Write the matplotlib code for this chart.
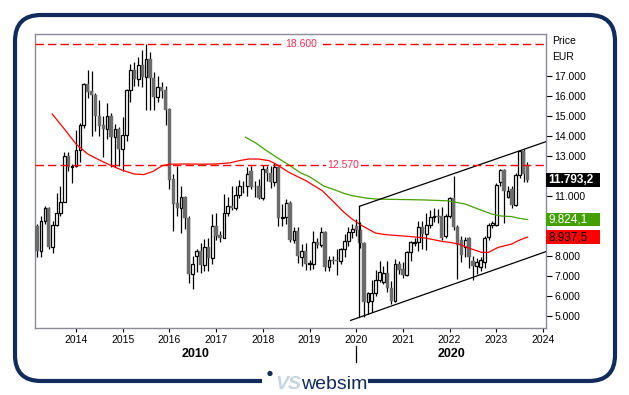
import matplotlib
matplotlib.use("Agg")
import matplotlib.pyplot as plt
import matplotlib.transforms as mtransforms
from matplotlib.patches import Rectangle, FancyBboxPatch, Circle
import numpy as np
import pandas as pd

# monthly candles, Mar 2013 .. Sep 2023
opens = [9520, 8270, 9730, 10400, 8470, 9570, 10130, 10680, 12980, 12470,
         12520, 13300, 14550, 16600, 16270, 16070, 15020, 14570, 14350, 15020,
         13930, 14350, 13350, 14050, 16300, 17300, 16850, 17550, 16970, 17850,
         16880, 15970, 16430, 16300, 15330, 11850, 10630, 10400, 10930, 9880,
         7100, 8020, 8270, 7570, 8430, 7880, 9480, 9050, 8880, 10130,
         10520, 10400, 11070, 11520, 11520, 12230, 11470, 11520, 10880, 12350,
         12130, 11680, 12470, 9880, 9970, 10630, 8800, 9270, 7970, 8270,
         7580, 7600, 8680, 8550, 9180, 7430, 7800, 7800, 7770, 8350,
         8770, 9180, 9500, 9300, 8630, 5680, 5750, 6130, 6800, 6700,
         7130, 6380, 5770, 7600, 7350, 7070, 8180, 8630, 8680, 9470,
         9100, 9550, 9930, 10000, 10000, 9020, 10020, 10880, 9470, 8820,
         8430, 8900, 7770, 7520, 7430, 7680, 8970, 9550, 9570, 11680,
         12300, 10970, 11350, 10570, 12050, 13230, 12550]
highs = [9600, 10020, 10520, 10450, 9730, 11130, 11520, 13180, 13180, 12600,
         14320, 14650, 16650, 17300, 17230, 16170, 15800, 15020, 15650, 15150,
         14600, 14430, 14930, 16350, 17600, 17680, 17930, 18300, 18600, 18180,
         17180, 16980, 16680, 16480, 15400, 12100, 12520, 11480, 11000, 10000,
         8020, 8350, 8630, 8850, 8900, 10100, 10150, 9270, 11100, 10970,
         11480, 11520, 11800, 11750, 12430, 12480, 11770, 11850, 12550, 12520,
         12480, 12630, 12520, 10600, 10850, 10770, 9430, 9430, 8600, 8630,
         7800, 9270, 8900, 9470, 9250, 8020, 8000, 8350, 8400, 9100,
         9470, 9600, 9850, 9700, 8700, 6180, 6800, 7300, 7770, 7500,
         7770, 6770, 7850, 7770, 7680, 8270, 8770, 8900, 9770, 9770,
         10130, 10300, 10400, 10350, 10430, 10100, 10950, 12020, 9550, 9000,
         8950, 8950, 8020, 7900, 7950, 9000, 9650, 9750, 11650, 12350,
         12350, 11500, 11500, 12150, 13300, 13350, 12720]
lows = [7970, 7970, 9600, 8370, 8130, 9500, 10000, 10680, 12270, 11630,
        12430, 12680, 14400, 15900, 14020, 14270, 14020, 12970, 13870, 12470,
        12430, 12520, 12270, 13730, 15680, 16500, 16500, 16430, 15300, 15300,
        15300, 15680, 15900, 14570, 11350, 9270, 10000, 9150, 9350, 6630,
        6350, 7200, 7130, 7230, 7270, 7600, 8800, 8700, 8880, 10000,
        10300, 10300, 10900, 11150, 11020, 11350, 10930, 10850, 10800, 11770,
        11400, 11500, 9520, 9520, 9600, 8700, 8650, 7630, 7520, 7320,
        7300, 7350, 8400, 8450, 7270, 7230, 7600, 7070, 7600, 7970,
        8500, 8900, 9000, 8400, 4970, 5100, 5200, 6000, 6700, 6600,
        6200, 5600, 5680, 7100, 6900, 7000, 7770, 8500, 8270, 8350,
        8300, 9400, 9700, 9650, 8800, 8900, 9900, 9300, 6850, 7700,
        7950, 7400, 6800, 7100, 7250, 7400, 8800, 9400, 9500, 11500,
        9630, 10900, 10400, 10500, 11900, 11700, 11700]
closes = [8270, 9730, 10400, 8470, 9570, 10130, 10680, 12980, 12470, 12520,
          13300, 14550, 16600, 16220, 16050, 15020, 14520, 14350, 15020, 13930,
          14350, 13350, 14050, 16300, 17300, 16850, 17550, 16930, 17850, 16880,
          15970, 16430, 16270, 15300, 11820, 10600, 10400, 10930, 9880, 7100,
          7600, 8270, 7570, 8430, 7880, 9480, 9020, 8880, 10130, 10520,
          10400, 11070, 11520, 11480, 12100, 11430, 11430, 10880, 12350, 12130,
          11680, 12470, 9880, 9970, 10630, 8800, 9270, 8000, 8270, 7600,
          7650, 8680, 8550, 9180, 7430, 7800, 7770, 7750, 8350, 8770,
          9180, 9350, 9300, 8630, 5680, 6130, 6130, 6800, 7180, 7130,
          6380, 5770, 7600, 7300, 7070, 8180, 8680, 8720, 9470, 9100,
          9550, 9930, 10000, 9950, 8900, 10020, 10880, 9470, 8570, 8070,
          8820, 7970, 7520, 7680, 7800, 8900, 9570, 9630, 11570, 12300,
          11270, 11270, 10570, 12050, 13230, 12100, 11793.2]

# moving averages
red_ma_x = [2013.49, 2013.75, 2014.0, 2014.25, 2014.5, 2014.75, 2015.0, 2015.25,
            2015.45, 2015.65, 2015.85, 2016.0, 2016.3, 2016.7, 2017.0, 2017.3,
            2017.5, 2017.7, 2017.9, 2018.13, 2018.28, 2018.56, 2018.92, 2019.27,
            2019.49, 2019.74, 2019.91, 2020.12, 2020.41, 2020.62, 2021.12, 2021.48,
            2021.84, 2022.0, 2022.19, 2022.47, 2022.69, 2022.83, 2023.04, 2023.33,
            2023.47, 2023.61, 2023.67]
red_ma_y = [15100, 14350, 13600, 13100, 12800, 12520, 12280, 12100,
            12070, 12230, 12520, 12590, 12600, 12590, 12600, 12660,
            12770, 12850, 12850, 12770, 12600, 12180, 11770, 11270,
            10770, 10180, 9850, 9520, 9150, 9070, 8980, 8900,
            8730, 8680, 8600, 8350, 8180, 8180, 8430, 8600,
            8770, 8900, 8937.5]
green_ma_x = [2017.63, 2017.85, 2018.06, 2018.3, 2018.56, 2018.8, 2019.01, 2019.13,
              2019.3, 2019.49, 2019.74, 2019.91, 2020.2, 2020.41, 2020.8, 2021.12,
              2021.5, 2021.94, 2022.1, 2022.33, 2022.61, 2022.9, 2023.1, 2023.33,
              2023.5, 2023.67]
green_ma_y = [13940, 13650, 13300, 12930, 12550, 12170, 11950, 11770,
              11500, 11350, 11130, 11020, 10900, 10850, 10830, 10820,
              10800, 10760, 10700, 10600, 10350, 10100, 10000, 9970,
              9880, 9824.1]

# trend channel
chan_lower_x = [2019.88, 2024.064]
chan_lower_y = [4780, 8220]
chan_upper_x = [2020.07, 2024.064]
chan_upper_y = [10485, 13717]

levels = [18600, 12570]
level_labels = ["18.600", "12.570"]
level_label_x = [2018.83, 2019.73]

last_labels = ["11.793,2", "9.824,1", "8.937,5"]
last_values = [11793.2, 9824.1, 8937.5]

years = list(range(2014, 2025))
y_ticks = list(range(5000, 18000, 1000))
hidden_tick_labels = [12000, 10000, 9000]  # covered by the last value boxes

NAVY = "#102b5c"
RED = "#ff0000"
GREEN = "#44a000"


def main():
    plt.rcParams['font.family'] = ['Liberation Sans', 'DejaVu Sans']
    W, H = 629, 395
    fig = plt.figure(figsize=(W / 100, H / 100), dpi=100)
    ax = fig.add_axes([35 / W, 1 - 328 / H, (546 - 35) / W, (328 - 34) / H])

    o = np.array(opens, dtype=float)
    h = np.array(highs, dtype=float)
    l = np.array(lows, dtype=float)
    c = np.array(closes, dtype=float)
    dates = pd.date_range("2013-03-01", periods=len(c), freq="MS")
    x = dates.year + (dates.month - 1) / 12.0

    up = c >= o
    ax.vlines(x, l, h, color="black", lw=0.9, zorder=2)
    lo = np.minimum(o, c)
    hgt = np.maximum(np.abs(c - o), 40)
    ax.bar(x[up], hgt[up], bottom=lo[up], width=0.058, color="white",
           edgecolor="black", lw=0.9, zorder=3)
    ax.bar(x[~up], hgt[~up], bottom=lo[~up], width=0.07, color="#6b6b6b",
           edgecolor="#6b6b6b", lw=0.3, zorder=3)

    ax.plot(red_ma_x, red_ma_y, color=RED, lw=0.9, zorder=4)
    ax.plot(green_ma_x, green_ma_y, color=GREEN, lw=0.9, zorder=4)

    # channel
    ax.plot(chan_lower_x, chan_lower_y, color="black", lw=0.9, zorder=4)
    ax.plot(chan_upper_x, chan_upper_y, color="black", lw=0.9, zorder=4)
    slope = (chan_lower_y[1] - chan_lower_y[0]) / (chan_lower_x[1] - chan_lower_x[0])
    base = chan_lower_y[0] + slope * (chan_upper_x[0] - chan_lower_x[0])
    ax.plot([chan_upper_x[0]] * 2, [base, chan_upper_y[0]], color="black", lw=0.9, zorder=4)

    for lev, lab, lx in zip(levels, level_labels, level_label_x):
        ax.axhline(lev, color=RED, lw=1.0, ls=(0, (6, 3)), zorder=5)
        ax.text(lx, lev, lab, color="#ff2a50", fontsize=7.5, ha="center", va="center",
                zorder=6, bbox=dict(fc="white", ec="none", pad=1.2))

    ax.set_xlim(2013.122, 2024.064)
    ax.set_ylim(4400, 19100)

    for s in ax.spines.values():
        s.set_color("#8a8a9a")
        s.set_linewidth(1.0)

    ax.yaxis.tick_right()
    ax.set_yticks(y_ticks)
    ax.set_yticklabels(["" if v in hidden_tick_labels else f"{v:,}".replace(",", ".")
                        for v in y_ticks])
    ax.tick_params(axis="y", direction="out", length=4, width=0.8, colors="black",
                   labelsize=7.5, pad=2)
    ax.set_xticks(years)
    ax.set_xticklabels([str(y) for y in years])
    ax.tick_params(axis="x", direction="out", length=3, width=0.8, colors="black",
                   labelsize=7.5, pad=2)

    # last value boxes on the right
    trans = mtransforms.blended_transform_factory(ax.transAxes, ax.transData)
    box_colors = ["black", GREEN, RED]
    text_colors = ["white", "white", "black"]
    weights = ["bold", "normal", "normal"]
    for lab, val, bc, tc, wt in zip(last_labels, last_values, box_colors, text_colors, weights):
        ax.add_patch(Rectangle((1.0, val - 340), 0.106, 680, transform=trans,
                               fc=bc, ec="none", clip_on=False, zorder=10))
        ax.text(1.004, val, lab, transform=trans, color=tc, fontsize=8.5,
                fontweight=wt, ha="left", va="center", zorder=11, clip_on=False)

    fig.text(552 / W, 1 - 41 / H, "Price", fontsize=7.5, va="center")
    fig.text(552 / W, 1 - 57 / H, "EUR", fontsize=7.5, va="center")

    # decade labels
    ftrans = mtransforms.blended_transform_factory(ax.transData, fig.transFigure)
    x0, x1 = ax.get_xlim()
    ax.text((x0 + 2020) / 2, 1 - 354 / H, "2010", transform=ftrans, fontsize=9,
            fontweight="bold", ha="center", va="center")
    ax.text((2020 + x1) / 2, 1 - 354 / H, "2020", transform=ftrans, fontsize=9,
            fontweight="bold", ha="center", va="center")
    ax.plot([2020, 2020], [1 - 346 / H, 1 - 362 / H], transform=ftrans,
            color="black", lw=0.9, clip_on=False)

    # outer frame and logo
    bg = fig.add_axes([0, 0, 1, 1], zorder=-1)
    bg.set_xlim(0, W)
    bg.set_ylim(H, 0)
    bg.axis("off")
    bg.add_patch(FancyBboxPatch((15, 15), 600, 366, boxstyle="round,pad=0,rounding_size=26",
                                fc="none", ec=NAVY, lw=3.0))
    bg.add_patch(Rectangle((262, 376), 106, 10, fc="white", ec="none"))
    bg.add_patch(Circle((270, 373.5), 2.6, fc=NAVY, ec="none"))
    bg.text(275, 389, "VS", color="#c6d3e2", fontsize=14, fontweight="bold",
            fontstyle="italic", va="baseline", ha="left")
    bg.text(301, 389, "websim", color=NAVY, fontsize=14, va="baseline", ha="left")

    fig.savefig("out.png", dpi=100)


if __name__ == '__main__':
    main()
